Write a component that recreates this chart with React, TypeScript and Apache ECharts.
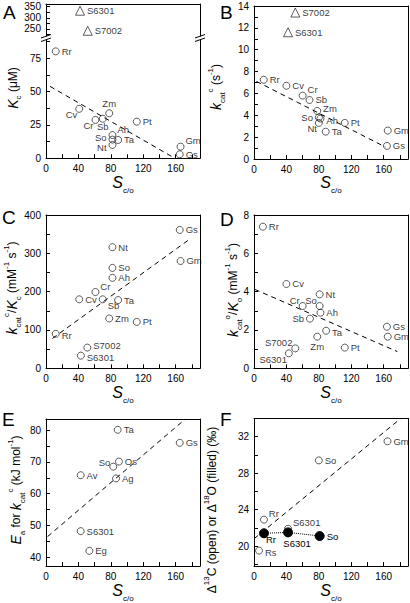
import React, { useEffect, useRef } from 'react';
import * as echarts from 'echarts';

const FONT = '"Liberation Sans", Arial, Helvetica, sans-serif';

// ---------- shared x axis (S c/o) ----------
const xTickValues = [0, 20, 40, 60, 80, 100, 120, 140, 160, 180];
const xLabelValues = [0, 40, 80, 120, 160];

// ---------- Panel A : Kc (µM) ----------
const aNames = ['Rr', 'Cv', 'Cr', 'Sb', 'Zm', 'Ah', 'So', 'Ta', 'Nt', 'Pt', 'Gm', 'Gs'];
const aSco = [12, 41, 61, 70, 78, 82, 82, 89, 82, 112, 166, 165];
const aKc = [80, 37, 28.7, 29.6, 33.7, 17.4, 14, 13.7, 10, 27.4, 8.7, 3];
const aPlace = ['r', 'bl', 'bl', 'bu', 't', 'tr', 'lu', 'r', 'lb', 'r', 'tr', 'r'];
const aCyanoNames = ['S6301', 'S7002'];
const aCyanoSco = [42, 51.5];
const aCyanoKc = [332, 242];
const aTrendSco = [5, 159];
const aTrendKc = [53.8, 0];
const aUpperTicks = [225, 250, 275, 300, 325, 350];
const aUpperLabels = [250, 300, 350];
const aLowerTicks = [0, 12.5, 25, 37.5, 50, 62.5, 75, 87.5];
const aLowerLabels = [0, 25, 50, 75];

// ---------- Panel B : kcat c (s-1) ----------
const bNames = ['Rr', 'Cv', 'Cr', 'Sb', 'Zm', 'So', 'Ah', 'Nt', 'Ta', 'Pt', 'Gm', 'Gs'];
const bSco = [12, 40, 60, 68.5, 78, 80, 82, 80, 88.5, 112, 165, 164];
const bKcat = [7.25, 6.7, 5.8, 5.4, 4.4, 3.8, 3.7, 3.3, 2.5, 3.3, 2.6, 1.2];
const bPlace = ['r', 'r', 'tr', 'r', 'rt', 'l', 'rb', 'bl', 'r', 'r', 'r', 'r'];
const bCyanoNames = ['S7002', 'S6301'];
const bCyanoSco = [51, 42];
const bCyanoKcat = [13.4, 11.6];
const bTrendSco = [3, 162];
const bTrendKcat = [7.1, 1.1];
const bTicks = [0, 1, 2, 3, 4, 5, 6, 7, 8, 9, 10, 11, 12, 13, 14];
const bLabels = [0, 2, 4, 6, 8, 10, 12, 14];

// ---------- Panel C : kcat c / Kc ----------
const cNames = ['Gs', 'Gm', 'Nt', 'So', 'Ah', 'Cr', 'Cv', 'Sb', 'Ta', 'Zm', 'Pt', 'Rr', 'S7002', 'S6301'];
const cSco = [165, 166, 82, 82, 82, 61, 41, 70, 89, 78, 112, 12, 51, 43];
const cRatio = [361, 280, 316, 262, 236, 199, 180, 180, 178, 130, 121, 90, 54, 33];
const cPlace = ['r', 'r', 'r', 'r', 'r', 'tr', 'r', 'br', 'r', 'r', 'r', 'rb', 'rt', 'rb'];
const cTrendSco = [8, 178];
const cTrendRatio = [78, 338];
const cTicks = [0, 50, 100, 150, 200, 250, 300, 350, 400];
const cLabels = [0, 100, 200, 300, 400];

// ---------- Panel D : kcat o / Ko ----------
const dNames = ['Rr', 'Cv', 'Nt', 'So', 'Cr', 'Ah', 'Sb', 'Ta', 'Zm', 'Pt', 'Gs', 'Gm', 'S7002', 'S6301'];
const dSco = [11, 40, 81, 81, 60, 82, 69, 89, 78, 112, 164, 165, 51, 43];
const dRatio = [7.39, 4.4, 3.86, 3.25, 3.25, 2.9, 2.59, 1.96, 1.65, 1.08, 2.17, 1.65, 1.04, 0.78];
const dPlace = ['r', 'r', 'r', 'tl', 'tl', 'r', 'l', 'rb', 'b', 'r', 'r', 'r', 'tl', 'bl'];
const dTrendSco = [1, 177];
const dTrendRatio = [4.12, 0.87];
const dTicks = [0, 1, 2, 3, 4, 5, 6, 7, 8];
const dLabels = [0, 2, 4, 6, 8];

// ---------- Panel E : Ea for kcat c ----------
const eNames = ['Ta', 'Gs', 'Os', 'So', 'Ag', 'Av', 'S6301', 'Eg'];
const eSco = [88.5, 165, 90, 83, 86.4, 42.8, 42.8, 53.5];
const eEa = [80.1, 76, 70.1, 68.5, 64.8, 65.8, 48.2, 42];
const ePlace = ['r', 'r', 'r', 'lt', 'r', 'r', 'r', 'r'];
const eTrendSco = [2, 172];
const eTrendEa = [46.5, 83.5];
const eTicks = [40, 45, 50, 55, 60, 65, 70, 75, 80];
const eLabels = [40, 50, 60, 70, 80];

// ---------- Panel F : Δ13C (open) / Δ18O (filled) ----------
const fOpenNames = ['Gm', 'So', 'Rr', 'S6301', 'Rs'];
const fOpenSco = [164.7, 80, 12.3, 42, 6.2];
const fOpenD13C = [31.5, 29.4, 22.9, 21.9, 19.5];
const fOpenPlace = ['r', 'r', 'tr', 'tr', 'rb'];
const fFilledNames = ['Rr', 'S6301', 'So'];
const fFilledSco = [12.3, 42, 81];
const fFilledD18O = [21.4, 21.5, 21.1];
const fFilledPlace = ['fbr', 'fb', 'r'];
const fTrendSco = [0, 181];
const fTrendD = [20.8, 34];
const fTicks = [18, 20, 22, 24, 26, 28, 30, 32];
const fLabels = [20, 24, 28, 32];

const LABEL_PLACE: Record<string, any> = {
  r: { position: 'right', distance: 2, offset: [0, 0] },
  rt: { position: 'right', distance: 2, offset: [0, -2] },
  rb: { position: 'right', distance: 2, offset: [0, 2] },
  l: { position: 'left', distance: 2, offset: [0, 0] },
  lu: { position: 'left', distance: 2, offset: [0, -2] },
  lb: { position: 'left', distance: 2, offset: [0, 3] },
  lt: { position: 'left', distance: 1, offset: [2, -4] },
  t: { position: 'top', distance: 1, offset: [0, 0] },
  b: { position: 'bottom', distance: 1, offset: [0, 0] },
  bu: { position: 'bottom', distance: 0, offset: [0, -1.5] },
  tr: { position: 'right', distance: 1, offset: [0, -6] },
  br: { position: 'right', distance: 1, offset: [0, 6] },
  tl: { position: 'left', distance: 1, offset: [2, -6] },
  bl: { position: 'left', distance: 1, offset: [3, 6] },
  fbr: { position: 'right', distance: 0, offset: [-3, 6.5] },
  fb: { position: 'bottom', distance: 1, offset: [9, 0] },
};

const black = '#000';
const tickFont = { color: black, fontSize: 10, fontFamily: FONT };
const LABEL_SIZE = 9.5;

const xNameRich = {
  i: { fontStyle: 'italic', fontSize: 16, fontFamily: FONT, color: black, lineHeight: 24, verticalAlign: 'middle' },
  s: { fontSize: 8, fontFamily: FONT, color: black, lineHeight: 9, verticalAlign: 'bottom' },
};

const titleRich = {
  i: { fontStyle: 'italic', fontSize: 14, fontFamily: FONT, fill: black, lineHeight: 20, verticalAlign: 'middle' },
  n: { fontSize: 12, fontFamily: FONT, fill: black, lineHeight: 20, verticalAlign: 'middle' },
  sub: { fontSize: 8, fontFamily: FONT, fill: black, lineHeight: 9, verticalAlign: 'bottom' },
  sup: { fontSize: 8, fontFamily: FONT, fill: black, lineHeight: 9, verticalAlign: 'top' },
};

function mainX(gi: number, show: boolean) {
  return {
    type: 'value', gridIndex: gi, min: 0, max: 190, position: 'bottom',
    axisLine: { show, onZero: false, lineStyle: { color: black, width: 1 } },
    axisTick: { show, inside: true, length: 4, customValues: xTickValues, lineStyle: { color: black, width: 1 } },
    axisLabel: { show, customValues: xLabelValues, margin: 5, ...tickFont },
    splitLine: { show: false },
    name: show ? '{i|S}{s|c/o}' : '',
    nameLocation: 'middle', nameGap: 11,
    nameTextStyle: { rich: xNameRich },
  };
}
function frameX(gi: number) {
  return {
    type: 'value', gridIndex: gi, position: 'top', min: 0, max: 1,
    axisLine: { show: true, onZero: false, lineStyle: { color: black, width: 1 } },
    axisTick: { show: false }, axisLabel: { show: false }, splitLine: { show: false },
  };
}
function mainY(gi: number, min: number, max: number, ticks: number[], labels: number[]) {
  return {
    type: 'value', gridIndex: gi, min, max, position: 'left',
    axisLine: { show: true, onZero: false, lineStyle: { color: black, width: 1 } },
    axisTick: { show: true, inside: true, length: 4, customValues: ticks, lineStyle: { color: black, width: 1 } },
    axisLabel: { show: true, customValues: labels, margin: 5, ...tickFont },
    splitLine: { show: false },
  };
}
function frameY(gi: number) {
  return {
    type: 'value', gridIndex: gi, position: 'right', min: 0, max: 1,
    axisLine: { show: true, onZero: false, lineStyle: { color: black, width: 1 } },
    axisTick: { show: false }, axisLabel: { show: false }, splitLine: { show: false },
  };
}

function buildOption() {
  const grid: any[] = [];
  const xAxis: any[] = [];
  const yAxis: any[] = [];
  const series: any[] = [];

  const addPanel = (rect: number[], yMin: number, yMax: number, yTicks: number[], yLabels: number[], showX: boolean, showTop: boolean) => {
    const gi = grid.length;
    grid.push({ left: rect[0], top: rect[1], width: rect[2], height: rect[3] });
    const xi = xAxis.length;
    xAxis.push(mainX(gi, showX));
    if (showTop) xAxis.push(frameX(gi));
    const yi = yAxis.length;
    yAxis.push(mainY(gi, yMin, yMax, yTicks, yLabels));
    yAxis.push(frameY(gi));
    return { xi, yi };
  };

  const scatter = (ids: any, names: string[], xs: number[], ys: number[], places: string[], symbol = 'circle', size = 7) => ({
    type: 'scatter', xAxisIndex: ids.xi, yAxisIndex: ids.yi, symbol, symbolSize: size,
    itemStyle: { color: 'rgba(255,255,255,0)', borderColor: black, borderWidth: 0.8 },
    label: { show: true, formatter: '{b}', color: black, fontSize: LABEL_SIZE, fontFamily: FONT },
    data: names.map((n, i) => ({ name: n, value: [xs[i], ys[i]], label: { ...LABEL_PLACE[places[i]] } })),
    silent: true,
  });
  const trend = (ids: any, xs: number[], ys: number[]) => ({
    type: 'line', xAxisIndex: ids.xi, yAxisIndex: ids.yi, symbol: 'none',
    data: xs.map((x, i) => [x, ys[i]]),
    lineStyle: { color: black, width: 1, type: [5, 4] }, silent: true,
  });

  // Panel A (broken axis: two grids)
  const aUp = addPanel([46, 4, 154, 32], 218.6, 362, aUpperTicks, aUpperLabels, false, true);
  const aLo = addPanel([46, 40, 154, 118.3], 0, 88.5, aLowerTicks, aLowerLabels, true, false);
  series.push(scatter(aUp, aCyanoNames, aCyanoSco, aCyanoKc, ['r', 'r'], 'triangle', 9));
  series.push(scatter(aLo, aNames, aSco, aKc, aPlace));
  series.push(trend(aLo, aTrendSco, aTrendKc));

  // Panel B
  const b = addPanel([254, 6, 154, 153], 0, 14, bTicks, bLabels, true, true);
  series.push(scatter(b, bNames, bSco, bKcat, bPlace));
  series.push(scatter(b, bCyanoNames, bCyanoSco, bCyanoKcat, ['r', 'r'], 'triangle', 9));
  series.push(trend(b, bTrendSco, bTrendKcat));

  // Panel C
  const c = addPanel([46, 215, 154, 153.3], 0, 400, cTicks, cLabels, true, true);
  series.push(scatter(c, cNames, cSco, cRatio, cPlace));
  series.push(trend(c, cTrendSco, cTrendRatio));

  // Panel D
  const d = addPanel([254, 215, 154, 153.3], 0, 8, dTicks, dLabels, true, true);
  series.push(scatter(d, dNames, dSco, dRatio, dPlace));
  series.push(trend(d, dTrendSco, dTrendRatio));

  // Panel E
  const e = addPanel([46, 419, 154, 152.7], 37.2, 83.5, eTicks, eLabels, true, true);
  series.push(scatter(e, eNames, eSco, eEa, ePlace));
  series.push(trend(e, eTrendSco, eTrendEa));

  // Panel F
  const f = addPanel([254, 418.5, 154, 153.2], 17.8, 34, fTicks, fLabels, true, true);
  series.push(scatter(f, fOpenNames, fOpenSco, fOpenD13C, fOpenPlace));
  series.push({
    type: 'line', xAxisIndex: f.xi, yAxisIndex: f.yi, symbol: 'circle', symbolSize: 9,
    itemStyle: { color: black, borderColor: black },
    lineStyle: { color: black, width: 1, type: 'dotted' },
    label: { show: true, formatter: '{b}', color: black, fontSize: LABEL_SIZE, fontFamily: FONT },
    data: fFilledNames.map((n, i) => ({ name: n, value: [fFilledSco[i], fFilledD18O[i]], label: { ...LABEL_PLACE[fFilledPlace[i]] } })),
    silent: true,
  });
  series.push(trend(f, fTrendSco, fTrendD));

  const letter = (t: string, x: number, y: number) => ({
    type: 'text', x, y, silent: true,
    style: { text: t, fontSize: 19, fontFamily: FONT, fill: black, align: 'left', verticalAlign: 'top', textAlign: 'left', textVerticalAlign: 'top' },
  });
  const yTitle = (t: string, x: number, y: number) => ({
    type: 'text', x, y, rotation: Math.PI / 2, silent: true,
    style: { text: t, rich: titleRich, fill: black, fontFamily: FONT, fontSize: 12, align: 'center', verticalAlign: 'middle', textAlign: 'center', textVerticalAlign: 'middle' },
  });
  const brk = (x: number, y: number) => ([
    { type: 'line', silent: true, shape: { x1: x - 5, y1: y + 1.5, x2: x + 5, y2: y - 2 }, style: { stroke: black, lineWidth: 1 } },
    { type: 'line', silent: true, shape: { x1: x - 5, y1: y + 5, x2: x + 5, y2: y + 1.5 }, style: { stroke: black, lineWidth: 1 } },
  ]);

  const graphic = [
    letter('A', 3, 3), letter('B', 220, 3), letter('C', 2, 208),
    letter('D', 220, 210), letter('E', 2, 410), letter('F', 220, 410),
    yTitle('{i|K}{sub|c}{n| (μM)}', 12.5, 88),
    yTitle('{i|k}{sub|cat}{sup|c}{n| (s}{sup|-1}{n|)}', 216, 87),
    yTitle('{i|k}{sub|cat}{sup|c}{n|/}{i|K}{sub|c}{n| (mM}{sup|-1}{n| s}{sup|-1}{n|)}', 12, 288),
    yTitle('{i|k}{sub|cat}{sup|o}{n|/}{i|K}{sub|o}{n| (mM}{sup|-1}{n| s}{sup|-1}{n|)}', 233, 290),
    yTitle('{i|E}{sub|a}{n| for }{i|k}{sub|cat}{sup|c}{n| (kJ mol}{sup|-1}{n|)}', 16, 490),
    yTitle('{n|Δ}{sup|13}{n|C (open) or Δ}{sup|18}{n|O (filled) (‰)}', 212, 510),
    ...brk(46, 36.5), ...brk(200, 36.5),
  ];

  return {
    animation: false,
    backgroundColor: '#fff',
    textStyle: { fontFamily: FONT },
    grid, xAxis, yAxis, series, graphic,
  };
}

export default function App() {
  const ref = useRef<HTMLDivElement>(null);
  useEffect(() => {
    if (!ref.current) return;
    const chart = echarts.init(ref.current, undefined, { renderer: 'svg' });
    chart.setOption(buildOption() as any);
    return () => chart.dispose();
  }, []);
  return <div ref={ref} style={{ position: 'fixed', left: 0, top: 0, width: 410, height: 603, background: '#fff' }} />;
}
